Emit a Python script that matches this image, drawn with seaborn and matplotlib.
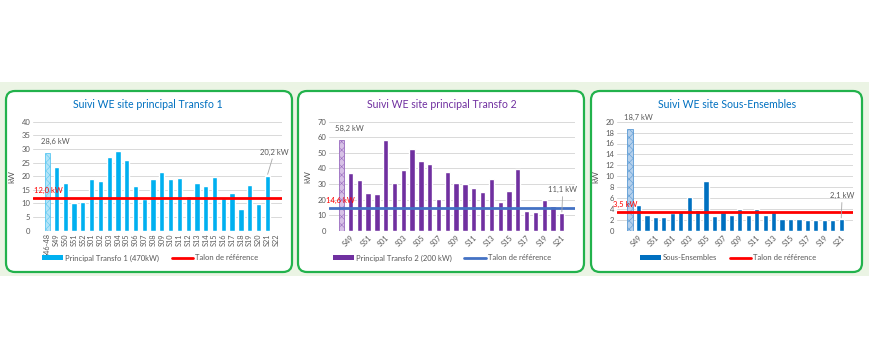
import matplotlib
matplotlib.use("Agg")
import matplotlib.pyplot as plt
import seaborn as sns
import pandas as pd
from matplotlib.patches import FancyBboxPatch, Rectangle, Patch
from matplotlib.lines import Line2D

# ---------------- data ----------------
weeks1 = ["S46-48", "S49", "S50", "S51", "S52", "S01", "S02", "S03", "S04", "S05",
          "S06", "S07", "S08", "S09", "S10", "S11", "S12", "S13", "S14", "S15",
          "S16", "S17", "S18", "S19", "S20", "S21", "S22"]
values1 = [28.6, 23.2, 17.4, 10.3, 10.5, 18.8, 18.2, 26.9, 29.1, 25.8,
           16.4, 11.8, 18.8, 21.5, 18.9, 19.5, 12.6, 17.5, 16.4, 19.6,
           11.9, 14.0, 7.8, 16.9, 9.9, 20.2]
ref1 = 12.0

weeks2 = ["S46-48", "S49", "S50", "S51", "S52", "S01", "S02", "S03", "S04", "S05",
          "S06", "S07", "S08", "S09", "S10", "S11", "S12", "S13", "S14", "S15",
          "S16", "S17", "S18", "S19", "S20", "S21"]
values2 = [58.2, 36.8, 32.3, 24.1, 23.5, 58.2, 30.6, 39.3, 52.2, 44.8,
           42.7, 20.2, 38.0, 30.9, 29.8, 27.3, 24.8, 33.5, 18.6, 25.4,
           39.8, 12.5, 12.0, 19.4, 15.8, 11.1]
ref2 = 14.6

weeks3 = weeks2
values3 = [18.7, 4.7, 2.8, 2.5, 2.6, 3.2, 3.7, 6.1, 3.8, 9.2,
           2.7, 3.4, 2.9, 4.0, 2.8, 4.0, 2.9, 3.4, 2.2, 2.1,
           2.2, 2.0, 2.0, 2.0, 2.0, 2.1]
ref3 = 3.5

titles = ["Suivi WE site principal Transfo 1",
          "Suivi WE site principal Transfo 2",
          "Suivi WE site Sous-Ensembles"]
series_names = ["Principal Transfo 1 (470kW)",
                "Principal Transfo 2 (200 kW)",
                "Sous-Ensembles"]
ref_name = "Talon de référence"

# ---------------- style ----------------
sns.set_theme(style="white")
plt.rcParams["font.family"] = ["Lato", "DejaVu Sans"]
plt.rcParams["hatch.linewidth"] = 0.4

W, H = 870, 350
fig = plt.figure(figsize=(W / 100, H / 100), dpi=100)
fig.patch.set_facecolor("white")

# background drawing axes in pixel units
bg = fig.add_axes([0, 0, 1, 1], zorder=-10)
bg.set_xlim(0, W)
bg.set_ylim(H, 0)
bg.axis("off")
bg.add_patch(Rectangle((0, 82), W, 194, facecolor="#ebf4e4", edgecolor="none"))
green = "#22b24c"
for (x0, x1) in [(6, 292), (298, 584), (591, 862)]:
    bg.add_patch(FancyBboxPatch((x0, 91), x1 - x0, 181,
                                boxstyle="round,pad=0,rounding_size=9",
                                facecolor="white", edgecolor=green, linewidth=1.6))

gray_txt = "#595959"
grid_col = "#d9d9d9"


def px_axes(x0, x1, ytop, ybot):
    return fig.add_axes([x0 / W, 1 - ybot / H, (x1 - x0) / W, (ybot - ytop) / H])


panels = [
    dict(weeks=weeks1, vals=values1, ref=ref1, color="#00b0f0", light="#b3e4f8",
         hatchcol="#5cc8f2", refcol="#ff0000", ymax=40, ystep=5, ax=(33, 282),
         xlim=(-1.67, 26.68), width=0.6, title_col="#0070c0", title_x=148,
         every=1, leg_x=150, ref_dx=1, last_dx=7),
    dict(weeks=weeks2, vals=values2, ref=ref2, color="#7030a0", light="#d7c1e6",
         hatchcol="#9a6cc0", refcol="#4472c4", ymax=70, ystep=10, ax=(329, 575),
         xlim=(-1.44, 26.5), width=0.6, title_col="#7030a0", title_x=442,
         every=2, leg_x=442, ref_dx=-1, last_dx=1),
    dict(weeks=weeks3, vals=values3, ref=ref3, color="#0070c0", light="#b5d0ec",
         hatchcol="#5b9bd5", refcol="#ff0000", ymax=20, ystep=2, ax=(617, 853),
         xlim=(-1.54, 26.4), width=0.62, title_col="#0070c0", title_x=727,
         every=2, leg_x=728, ref_dx=-5, last_dx=1),
]

for i, p in enumerate(panels):
    ax = px_axes(p["ax"][0], p["ax"][1], 121.7, 230.7)
    n = len(p["vals"])
    df = pd.DataFrame({"week": p["weeks"][:n], "kw": p["vals"]})
    pal = {w: (p["light"] if j == 0 else p["color"]) for j, w in enumerate(p["weeks"][:n])}
    sns.barplot(data=df, x="week", y="kw", hue="week", palette=pal, order=p["weeks"],
                hue_order=p["weeks"][:n], width=p["width"], legend=False, ax=ax,
                saturation=1, zorder=2)
    first = ax.patches[0]
    first.set_hatch("xxxx")
    first.set_edgecolor(p["hatchcol"])
    first.set_linewidth(0.6)

    ax.axhline(p["ref"], color=p["refcol"], lw=2, zorder=3)

    ax.set_xlim(*p["xlim"])
    ax.set_ylim(0, p["ymax"])
    ax.set_yticks(range(0, p["ymax"] + 1, p["ystep"]))
    ax.yaxis.grid(True, color=grid_col, lw=0.7, zorder=0)
    ax.set_axisbelow(True)
    for s in ax.spines.values():
        s.set_visible(False)
    ax.tick_params(axis="both", length=0, labelsize=5.5, colors=gray_txt, pad=2)
    ax.set_facecolor("none")

    ticks = list(range(len(p["weeks"])))
    if p["every"] == 1:
        ax.set_xticks(ticks)
        ax.set_xticklabels(p["weeks"], rotation=90, fontsize=5.3, color=gray_txt)
    else:
        sel = ticks[1::2]
        ax.set_xticks(sel)
        ax.set_xticklabels([p["weeks"][k] for k in sel], rotation=45, ha="right",
                           rotation_mode="anchor", fontsize=5.3, color=gray_txt)
    ax.set_xlabel("")
    ax.set_ylabel("kW", fontsize=6, color=gray_txt, labelpad=4)

    # title
    fig.text(p["title_x"] / W, 1 - 104 / H, titles[i], ha="center", va="center",
             fontsize=7.6, color=p["title_col"])

    # data labels
    fs = 5.5
    ax.annotate(f"{p['vals'][0]:.1f}".replace(".", ",") + " kW",
                xy=(0, p["vals"][0]), xytext=(8, 8), textcoords="offset pixels",
                ha="center", va="bottom", fontsize=fs, color=gray_txt)
    ax.annotate(f"{p['ref']:.1f}".replace(".", ",") + " kW",
                xy=(0, p["ref"]), xytext=(p["ref_dx"], 4), textcoords="offset pixels",
                ha="center", va="bottom", fontsize=fs, color="#ff0000")
    last = n - 1
    ax.annotate(f"{p['vals'][last]:.1f}".replace(".", ",") + " kW",
                xy=(last, p["vals"][last]), xytext=(p["last_dx"], 20),
                textcoords="offset pixels",
                ha="center", va="bottom", fontsize=fs, color=gray_txt,
                arrowprops=dict(arrowstyle="-", color="#a6a6a6", lw=0.6,
                                shrinkA=0, shrinkB=1))

    # legend
    handles = [Patch(facecolor=p["color"], edgecolor="none"),
               Line2D([0], [0], color=p["refcol"], lw=2)]
    fig.legend(handles, [series_names[i], ref_name], loc="center",
               bbox_to_anchor=(p["leg_x"] / W, 1 - 258 / H), ncol=2, frameon=False,
               fontsize=5.5, labelcolor=gray_txt, handlelength=2.8, handleheight=0.65,
               handletextpad=0.3, columnspacing=1.6)

fig.savefig("out.png", dpi=100, facecolor="white")
